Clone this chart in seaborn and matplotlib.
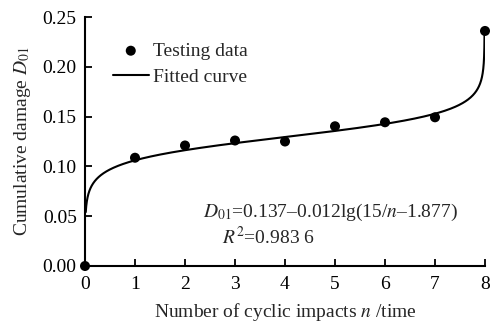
import numpy as np
import pandas as pd
import matplotlib
matplotlib.use("Agg")
import matplotlib.pyplot as plt
import seaborn as sns

# Measured cumulative damage after each cyclic impact
impacts = [0, 1, 2, 3, 4, 5, 6, 7, 8]
damage = [0.0, 0.1087, 0.121, 0.126, 0.125, 0.1403, 0.1443, 0.1493, 0.236]

# Fitted model D01 = a - b*log(c/n - d)
fit_a = 0.137
fit_b = 0.012
fit_c = 15.0
fit_d = 1.877
r_squared = "0.983 6"

x_ticks = [0, 1, 2, 3, 4, 5, 6, 7, 8]
y_ticks = [0.00, 0.05, 0.10, 0.15, 0.20, 0.25]

sns.set_theme(style="ticks")
plt.rcParams["font.family"] = ["Liberation Serif", "DejaVu Serif"]
plt.rcParams["mathtext.fontset"] = "stix"
plt.rcParams["axes.unicode_minus"] = False

FS = 14

# Curve evaluated over the valid domain (argument of the log stays positive)
n_end = fit_c / fit_d
n_curve = np.concatenate([
    np.linspace(0.015, 0.5, 200),
    np.linspace(0.5, 7.5, 300),
    n_end - np.geomspace(n_end - 7.5, 1e-4, 300),
])
d_curve = fit_a - fit_b * np.log(fit_c / n_curve - fit_d)
keep = d_curve <= max(damage)
curve_df = pd.DataFrame({"n": n_curve[keep], "D": d_curve[keep]})
points_df = pd.DataFrame({"n": impacts, "D": damage})

fig = plt.figure(figsize=(4.99, 3.23), dpi=100)
ax = fig.add_axes([85 / 499, 1 - 266 / 323, 400 / 499, 249 / 323])

sns.lineplot(data=curve_df, x="n", y="D", ax=ax, color="black", lw=1.5,
             sort=False, estimator=None, label="Fitted curve", zorder=2)
sns.scatterplot(data=points_df, x="n", y="D", ax=ax, color="black", s=52,
                edgecolor="none", label="Testing data", zorder=3, clip_on=False)

ax.set_xlim(0, 8)
ax.set_ylim(0, 0.25)
ax.set_xticks(x_ticks)
ax.set_xticklabels([str(t) for t in x_ticks])
ax.set_yticks(y_ticks)
ax.set_yticklabels([f"{t:.2f}" for t in y_ticks])
ax.tick_params(direction="in", length=5, width=1.3, labelsize=FS, pad=6,
               colors="black")
ax.tick_params(axis="x", pad=7)
for side in ("top", "right"):
    ax.spines[side].set_visible(False)
for side in ("left", "bottom"):
    ax.spines[side].set_linewidth(1.5)
    ax.spines[side].set_color("black")

ax.set_xlabel("Number of cyclic impacts $n$ /time", fontsize=FS, labelpad=6)
ax.set_ylabel(r"Cumulative damage $D_{\mathrm{01}}$", fontsize=FS, labelpad=7)

handles, labels = ax.get_legend_handles_labels()
order = [labels.index("Testing data"), labels.index("Fitted curve")]
ax.legend([handles[i] for i in order], [labels[i] for i in order],
          loc="upper left", bbox_to_anchor=(0.05, 0.93), frameon=False,
          fontsize=FS, handlelength=1.85, handletextpad=0.2, labelspacing=0.45,
          borderaxespad=0)

ax.text(0.295, 0.215,
        r"$D_{\mathrm{01}}$=0.137–0.012lg(15/$n$–1.877)",
        transform=ax.transAxes, fontsize=FS, ha="left", va="center")
ax.text(0.343, 0.118, r"$R^{\mathrm{2}}$=" + r_squared,
        transform=ax.transAxes, fontsize=FS, ha="left", va="center")

fig.savefig("out.png", dpi=100)
